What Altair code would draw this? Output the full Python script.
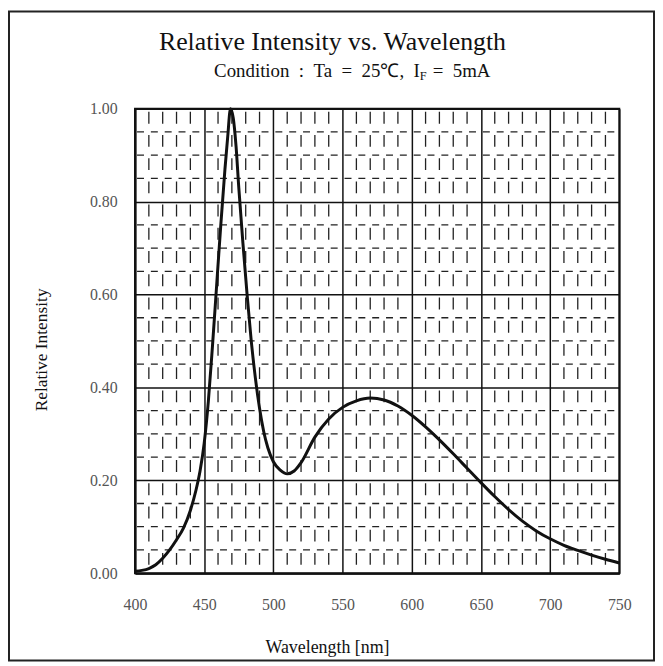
import altair as alt
import pandas as pd

# ---- data ----
wavelength = [400, 405, 410, 415, 420, 425, 430, 435, 440, 444, 447, 450, 453, 456, 459,
              462, 465, 467, 469, 471, 473, 475, 478, 481, 484, 487, 490, 493, 496, 500,
              505, 510, 515, 520, 530, 540, 550, 560, 570, 580, 590, 600, 610, 620, 630,
              640, 650, 660, 670, 680, 690, 700, 710, 720, 730, 740, 750]
intensity = [0.004, 0.006, 0.010, 0.018, 0.032, 0.050, 0.072, 0.097, 0.135, 0.178, 0.220, 0.280,
             0.370, 0.490, 0.620, 0.750, 0.870, 0.940, 1.000, 0.980, 0.920, 0.830, 0.710, 0.600,
             0.500, 0.420, 0.355, 0.305, 0.270, 0.240, 0.222, 0.214, 0.220, 0.238, 0.293, 0.332,
             0.357, 0.371, 0.377, 0.373, 0.360, 0.340, 0.315, 0.287, 0.257, 0.226, 0.195, 0.165,
             0.137, 0.112, 0.091, 0.074, 0.060, 0.049, 0.039, 0.030, 0.022]

x_major = [400, 450, 500, 550, 600, 650, 700, 750]
y_major = [0.0, 0.2, 0.4, 0.6, 0.8, 1.0]
x_minor = [v for v in range(410, 750, 10) if v % 50 != 0]
y_minor = [0.05, 0.10, 0.15, 0.25, 0.30, 0.35, 0.45, 0.50, 0.55, 0.65, 0.70, 0.75, 0.85, 0.90, 0.95]

SP = "\u2002"
title_text = "Relative Intensity vs. Wavelength"
sub_left = f"Condition{SP}:{SP}Ta{SP}={SP}25\u2103,{SP}I"
sub_sub = "F"
sub_right = f"={SP}5mA"
x_title = "Wavelength [nm]"
y_title = "Relative Intensity"

W, H = 488, 468
SERIF = "Liberation Serif"

curve_df = pd.DataFrame({"wl": wavelength, "ri": intensity})
xs = alt.Scale(domain=[400, 750], nice=False, zero=False)
ys = alt.Scale(domain=[0, 1], nice=False, zero=False)

one = pd.DataFrame({"k": [0]})

border = alt.Chart(one).mark_rect(fill="white", fillOpacity=0, stroke="#222", strokeWidth=2).encode(
    x=alt.value(-127), x2=alt.value(523), y=alt.value(-98), y2=alt.value(556)
)

vminor = alt.Chart(pd.DataFrame({"v": x_minor})).mark_rule(
    color="#222", strokeWidth=1.3, strokeDash=[12, 11.4], strokeDashOffset=20.4
).encode(x=alt.X("v:Q", scale=xs), y=alt.value(0), y2=alt.value(H))

hminor = alt.Chart(pd.DataFrame({"v": y_minor})).mark_rule(
    color="#222", strokeWidth=1.3, strokeDash=[7, 6.94], strokeDashOffset=11.9
).encode(y=alt.Y("v:Q", scale=ys), x=alt.value(0), x2=alt.value(W))

curve = alt.Chart(curve_df).mark_line(
    color="#111", strokeWidth=3, interpolate="monotone"
).encode(
    x=alt.X("wl:Q", scale=xs, axis=alt.Axis(
        values=x_major, title=None, grid=True, gridColor="#111", gridWidth=1.5,
        ticks=False, labelPadding=24, labelFont=SERIF, labelFontSize=16, labelFlush=False,
        labelColor="#555", domainColor="#111", domainWidth=2, format="d")),
    y=alt.Y("ri:Q", scale=ys, axis=alt.Axis(
        values=y_major, title=None, grid=True, gridColor="#111", gridWidth=1.5,
        ticks=False, labelPadding=18, labelFont=SERIF, labelFontSize=16, labelFlush=False,
        labelColor="#555", domainColor="#111", domainWidth=2, format=".2f")),
)

def txt(s, x, y, size, align="center", baseline="alphabetic", angle=0):
    kw = dict(font=SERIF, fontSize=size, align=align, baseline=baseline, color="#111")
    if angle:
        kw["angle"] = angle
    return alt.Chart(pd.DataFrame({"t": [s]})).mark_text(**kw).encode(
        text="t:N", x=alt.value(x), y=alt.value(y))

t_title = txt(title_text, 199, -59, 26)
t_sub1 = txt(sub_left, 287, -32, 19, align="right")
t_sub2 = txt(sub_sub, 287, -29, 12.5, align="left")
t_sub3 = txt(sub_right, 300, -32, 19, align="left")
t_x = txt(x_title, 194, 543, 18, baseline="middle")
t_y = txt(y_title, -94, 243, 17.5, baseline="middle", angle=270)

chart = alt.layer(
    border, vminor, hminor, curve, t_title, t_sub1, t_sub2, t_sub3, t_x, t_y
).properties(
    width=W, height=H, padding=0, background="white"
).configure_view(stroke="#111", strokeWidth=2)

chart.save("out.html", embed_options={"renderer": "svg", "actions": False})
